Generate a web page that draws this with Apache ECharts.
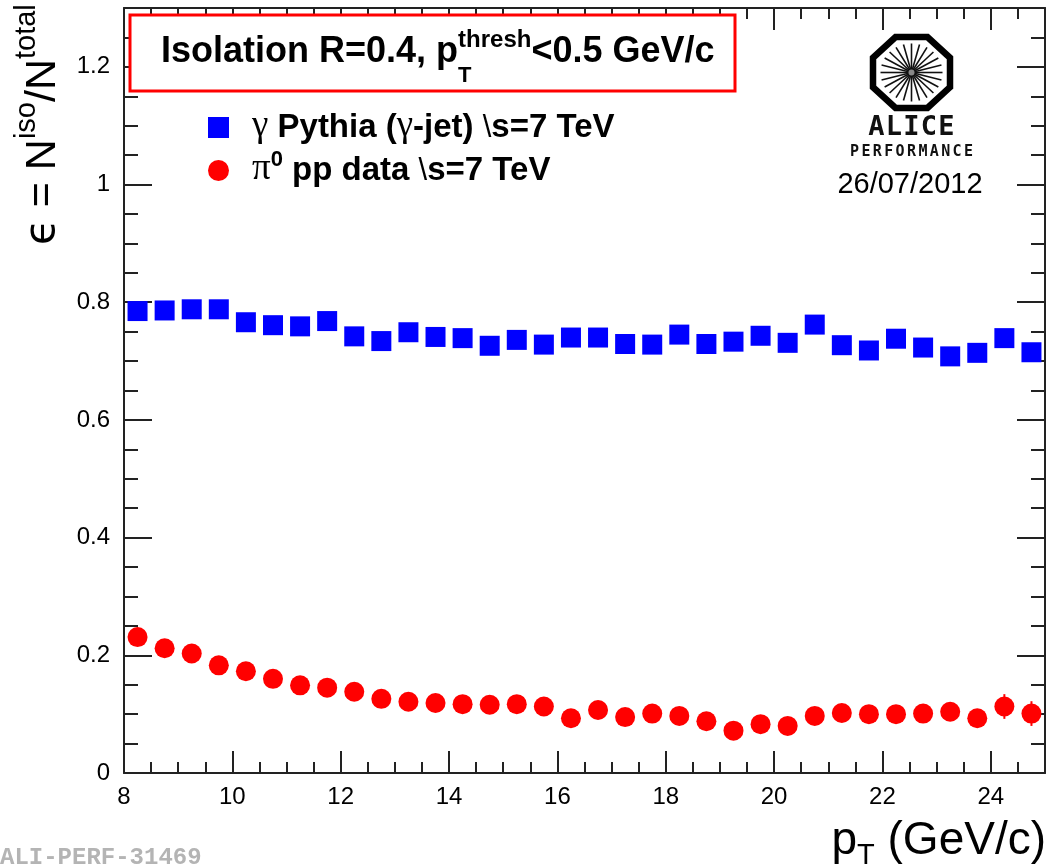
<!DOCTYPE html>
<html><head><meta charset="utf-8">
<script src="https://cdn.jsdelivr.net/npm/echarts@6/dist/echarts.min.js"></script>
<style>html,body{margin:0;padding:0;background:#fff}#c{width:1050px;height:868px}</style>
</head><body><div id="c"></div>
<script>
// ---- data ----
const ptCenters = [8.25,8.75,9.25,9.75,10.25,10.75,11.25,11.75,12.25,12.75,13.25,13.75,14.25,14.75,15.25,15.75,16.25,16.75,17.25,17.75,18.25,18.75,19.25,19.75,20.25,20.75,21.25,21.75,22.25,22.75,23.25,23.75,24.25,24.75];
const gammaEff = [0.785,0.786,0.788,0.788,0.766,0.761,0.759,0.768,0.742,0.734,0.749,0.741,0.739,0.726,0.736,0.728,0.740,0.740,0.729,0.728,0.745,0.729,0.733,0.743,0.731,0.762,0.727,0.718,0.738,0.723,0.708,0.714,0.739,0.715];
const pi0Eff = [0.231,0.212,0.203,0.183,0.173,0.160,0.149,0.145,0.138,0.126,0.121,0.119,0.117,0.116,0.117,0.113,0.093,0.107,0.095,0.101,0.097,0.088,0.072,0.083,0.080,0.097,0.102,0.100,0.100,0.101,0.104,0.093,0.113,0.101];
const pi0Err = [0.004,0.004,0.004,0.005,0.005,0.005,0.005,0.006,0.006,0.006,0.007,0.007,0.007,0.008,0.008,0.008,0.009,0.009,0.010,0.010,0.010,0.011,0.011,0.012,0.012,0.012,0.013,0.013,0.014,0.014,0.015,0.015,0.021,0.021];
const xTickLabels = [8,10,12,14,16,18,20,22,24];
const yTickLabels = [0,0.2,0.4,0.6,0.8,1,1.2];
const seriesNames = ['gamma', 'pi0'];

// ---- helpers ----
const X_MIN = 8, X_MAX = 25, Y_MIN = 0, Y_MAX = 1.3;
const xMinor = [], yMinor = [];
for (let v = 8.5; v < X_MAX - 1e-9; v += 0.5) if (Math.abs(v / 2 - Math.round(v / 2)) > 1e-6) xMinor.push(+v.toFixed(2));
for (let k = 1; k * 0.05 < Y_MAX - 1e-9; k++) if (k % 4 !== 0) yMinor.push(+(k * 0.05).toFixed(2));

const FRAME = '#222';
const mctx = document.createElement('canvas').getContext('2d');
function fontStr(s) { return (s.weight || 'normal') + ' ' + s.size + 'px ' + (s.family || '"Liberation Sans", Arial, sans-serif'); }
function tw(t, f) { mctx.font = f; return mctx.measureText(t).width; }
// lay out a line of text segments on a common baseline
function layout(segs, x0, base, align) {
  let prevStart = 0;
  const items = [];
  let x = 0;
  segs.forEach(s => {
    const f = fontStr(s), w = tw(s.t, f);
    const sx = s.stack ? prevStart : x;
    items.push({ s, f, sx });
    if (!s.stack) prevStart = sx;
    x = Math.max(x, sx + w);
  });
  const total = x;
  const off = align === 'right' ? x0 - total : (align === 'center' ? x0 - total / 2 : x0);
  return items.map(it => ({
    type: 'text', x: off + it.sx, y: base + (it.s.dy || 0) - 0.35 * it.s.size, silent: true,
    style: { text: it.s.t, font: it.f, fill: it.s.fill || '#000', textAlign: 'left', textVerticalAlign: 'middle' }
  }));
}

function mkAxis(dim, pos, vals, len, withLabels, withLine) {
  const isX = dim === 'x';
  return {
    type: 'value', position: pos, min: isX ? X_MIN : Y_MIN, max: isX ? X_MAX : Y_MAX,
    axisLine: { show: withLine, onZero: false, lineStyle: { color: FRAME, width: 2 } },
    axisTick: { show: true, inside: true, length: len, customValues: vals, lineStyle: { color: FRAME, width: 2 } },
    axisLabel: withLabels ? {
      show: true, customValues: vals, margin: isX ? 12 : 14, fontSize: 24, color: '#000',
      fontFamily: '"Liberation Sans", Arial, sans-serif',
      formatter: v => String(+(+v).toFixed(2))
    } : { show: false },
    splitLine: { show: false }, minorTick: { show: false }
  };
}

// ---- graphics ----
const graphics = [];
// title box
graphics.push({ type: 'rect', shape: { x: 130, y: 15, width: 605, height: 76 }, style: { fill: '#fff', stroke: '#f00', lineWidth: 3 }, z: 10 });
layout([
  { t: 'Isolation R=0.4, p', size: 36, weight: 'bold' },
  { t: 'thresh', size: 24, weight: 'bold', dy: -16 },
  { t: 'T', size: 22, weight: 'bold', dy: 19, stack: true },
  { t: '<0.5 GeV/c', size: 36, weight: 'bold' }
], 161, 65).forEach(e => { e.z = 11; graphics.push(e); });

// legend texts
const SERIF = '"Liberation Serif", "DejaVu Serif", serif';
layout([
  { t: 'γ', size: 37, family: SERIF },
  { t: ' Pythia (', size: 33, weight: 'bold' },
  { t: 'γ', size: 37, family: SERIF },
  { t: '-jet) ', size: 33, weight: 'bold' },
  { t: '\\', size: 31 },
  { t: 's=7 TeV', size: 33, weight: 'bold' }
], 252, 139).forEach(e => graphics.push(e));
layout([
  { t: 'π', size: 37, family: SERIF },
  { t: '0', size: 22, weight: 'bold', dy: -14 },
  { t: ' pp data ', size: 33, weight: 'bold' },
  { t: '\\', size: 31 },
  { t: 's=7 TeV', size: 33, weight: 'bold' }
], 252, 182).forEach(e => graphics.push(e));

// y axis title (rotated)
graphics.push({
  type: 'group', x: 58, y: 245, rotation: Math.PI / 2,
  children: layout([
    { t: 'ϵ', size: 42, family: '"DejaVu Sans", sans-serif' },
    { t: ' = N', size: 43 },
    { t: 'iso', size: 29, dy: -21 },
    { t: '/N', size: 43 },
    { t: 'total', size: 29, dy: -21 }
  ], 0, 0)
});

// x axis title
layout([
  { t: 'p', size: 46 },
  { t: 'T', size: 29, dy: 9 },
  { t: ' (GeV/c)', size: 46 }
], 1046, 857, 'right').forEach(e => graphics.push(e));

// ALICE logo
(function () {
  const cx = 911.5, cy = 72.5, rx = 38.5 / Math.cos(Math.PI / 8), ry = 35.5 / Math.cos(Math.PI / 8);
  const pts = [];
  for (let k = 0; k < 8; k++) { const a = Math.PI / 8 + k * Math.PI / 4; pts.push([cx + rx * Math.cos(a), cy + ry * Math.sin(a)]); }
  graphics.push({ type: 'polygon', shape: { points: pts }, style: { fill: 'none', stroke: '#000', lineWidth: 6.5 }, silent: true });
  for (let k = 0; k < 24; k++) {
    const a = k * Math.PI / 12;
    graphics.push({ type: 'line', shape: { x1: cx, y1: cy, x2: cx + 31 * Math.cos(a), y2: cy + 29 * Math.sin(a) }, style: { stroke: '#111', lineWidth: 1.6 }, silent: true });
  }
  graphics.push({ type: 'circle', shape: { cx, cy, r: 3 }, style: { fill: '#888' }, silent: true });
  const MONO = '"DejaVu Sans Mono", monospace';
  'ALICE'.split('').forEach((ch, i) => graphics.push({
    type: 'text', x: 876.5 + i * 17.5, y: 128, silent: true,
    style: { text: ch, font: 'bold 27px ' + MONO, fill: '#111', textAlign: 'center', textVerticalAlign: 'middle' }
  }));
  'PERFORMANCE'.split('').forEach((ch, i) => graphics.push({
    type: 'text', x: 854.5 + i * 11.4, y: 152.5, silent: true,
    style: { text: ch, font: 'bold 15px ' + MONO, fill: '#111', textAlign: 'center', textVerticalAlign: 'middle' }
  }));
  graphics.push({ type: 'text', x: 910, y: 185, silent: true, style: { text: '26/07/2012', font: 'normal 29px "Liberation Sans", Arial, sans-serif', fill: '#000', textAlign: 'center', textVerticalAlign: 'middle' } });
})();

// watermark id
graphics.push({ type: 'text', x: 0, y: 858, silent: true, style: { text: 'ALI-PERF-31469', font: 'bold 24px "Liberation Mono", "Courier New", monospace', fill: '#b4b4b4', textAlign: 'left', textVerticalAlign: 'middle' } });

const chart = echarts.init(document.getElementById('c'), null, { renderer: 'canvas' });
chart.setOption({
  animation: false,
  backgroundColor: '#fff',
  grid: { left: 124, right: 5, top: 8, bottom: 95, containLabel: false },
  xAxis: [
    mkAxis('x', 'bottom', xTickLabels, 22, true, true),
    mkAxis('x', 'bottom', xMinor, 11, false, false),
    mkAxis('x', 'top', xTickLabels, 22, false, true),
    mkAxis('x', 'top', xMinor, 11, false, false)
  ],
  yAxis: [
    mkAxis('y', 'left', yTickLabels, 28, true, true),
    mkAxis('y', 'left', yMinor, 14, false, false),
    mkAxis('y', 'right', yTickLabels, 28, false, true),
    mkAxis('y', 'right', yMinor, 14, false, false)
  ],
  legend: {
    data: seriesNames, orient: 'vertical', left: 208, top: 117, itemWidth: 21, itemHeight: 21, itemGap: 22,
    formatter: () => '', selectedMode: false, padding: 0, textStyle: { fontSize: 1 }
  },
  graphic: graphics,
  series: [
    {
      name: 'pi0err', type: 'custom', xAxisIndex: 0, yAxisIndex: 0, z: 2, silent: true,
      data: ptCenters.map((x, i) => [x, pi0Eff[i], pi0Err[i]]),
      renderItem: (params, api) => {
        const x = api.value(0), y = api.value(1), e = api.value(2);
        const a = api.coord([x, y - e]), b = api.coord([x, y + e]);
        return { type: 'line', shape: { x1: a[0], y1: a[1], x2: b[0], y2: b[1] }, style: { stroke: '#f00', lineWidth: 2 } };
      }
    },
    {
      name: 'gamma', type: 'scatter', symbol: 'rect', symbolSize: 20, xAxisIndex: 0, yAxisIndex: 0, z: 3,
      itemStyle: { color: '#0000ff', opacity: 1 },
      data: ptCenters.map((x, i) => [x, gammaEff[i]])
    },
    {
      name: 'pi0', type: 'scatter', symbol: 'circle', symbolSize: 20, xAxisIndex: 0, yAxisIndex: 0, z: 3,
      itemStyle: { color: '#ff0000', opacity: 1 },
      data: ptCenters.map((x, i) => [x, pi0Eff[i]])
    }
  ]
});
</script>
</body></html>
